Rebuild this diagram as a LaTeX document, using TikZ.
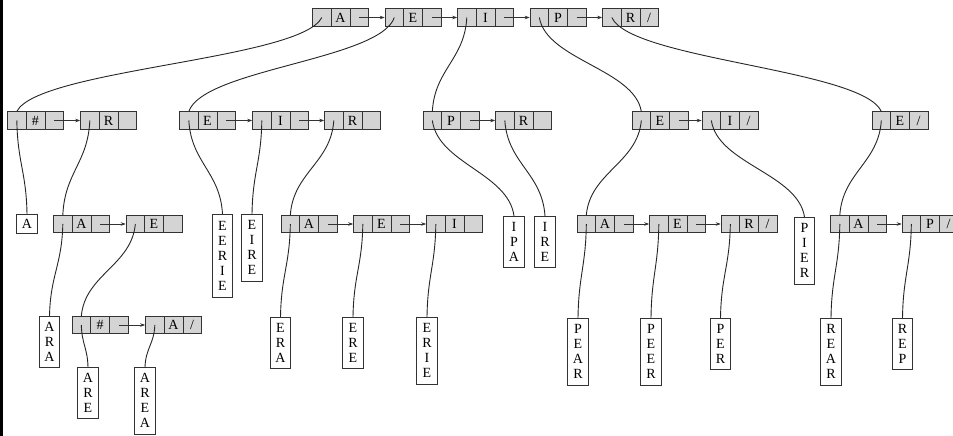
\documentclass[tikz,border=0pt]{standalone}
\usepackage{fontspec}
\setmainfont{Liberation Serif}
\usetikzlibrary{arrows.meta,calc}
\newcommand\reccells[2]{\makebox[18.67pt]{}\makebox[18.67pt]{#1}\makebox[18.67pt]{#2}}
\newcommand\treelink[2]{\draw[conn] let \p1=#1, \p2=#2 in (\p1) .. controls (0.93*\x1+0.07*\x2, 0.55*\y1+0.45*\y2) and (0.07*\x1+0.93*\x2, 0.45*\y1+0.55*\y2) .. (\p2);}
\newcommand\linkrec[2]{\treelink{([xshift=-18.67pt]#1.center)}{([xshift=-18.67pt]#2.north)}}
\newcommand\linkleaf[2]{\treelink{([xshift=-18.67pt]#1.center)}{(#2.north)}}
\newcommand\nextrec[2]{\draw[arr] ([xshift=18.67pt]#1.center) -- (#2.west);}
\begin{document}
\begin{tikzpicture}[x=1pt,y=-1pt,
  rec/.style={draw=black!80, line width=0.6pt, fill=black!17, inner sep=0pt,
    minimum height=17.5pt, text height=9.2pt, text depth=0pt,
    font=\fontsize{14}{15}\selectfont,
    path picture={\draw[black!80, line width=0.6pt]
      ([xshift=-9.33pt]path picture bounding box.north) -- ([xshift=-9.33pt]path picture bounding box.south)
      ([xshift=9.33pt]path picture bounding box.north) -- ([xshift=9.33pt]path picture bounding box.south);}},
  leaf/.style={draw=black!80, line width=0.6pt, fill=white, inner sep=0pt,
    minimum width=20.5pt, minimum height={16*#1+3}, anchor=north, align=center,
    font=\fontsize{14}{15}\selectfont},
  conn/.style={draw=black!85, line width=0.9pt},
  arr/.style={draw=black!80, line width=0.6pt, -{Stealth[length=5pt,width=3.5pt]}}
]
\fill[white] (0,0) rectangle (953,436);
\useasboundingbox (0,0) rectangle (953,436);
\draw[line width=2.5pt] (1.25,0) -- (1.25,436);

% top row
\node[rec] (r1) at (340.5,17.5) {\reccells{A}{}};
\node[rec] (r2) at (413,17.5) {\reccells{E}{}};
\node[rec] (r3) at (485.5,17.5) {\reccells{I}{}};
\node[rec] (r4) at (558,17.5) {\reccells{P}{}};
\node[rec] (r5) at (630.5,17.5) {\reccells{R}{/}};

% level 2
\node[rec] (a1) at (35.5,120.5) {\reccells{\#}{}};
\node[rec] (a2) at (108.5,120.5) {\reccells{R}{}};
\node[rec] (b1) at (207.5,120.5) {\reccells{E}{}};
\node[rec] (b2) at (280.5,120.5) {\reccells{I}{}};
\node[rec] (b3) at (352.5,120.5) {\reccells{R}{}};
\node[rec] (c1) at (451,120.5) {\reccells{P}{}};
\node[rec] (c2) at (523.5,120.5) {\reccells{R}{}};
\node[rec] (d1) at (660,120.5) {\reccells{E}{}};
\node[rec] (d2) at (730,120.5) {\reccells{I}{/}};
\node[rec] (e1) at (900,120.5) {\reccells{E}{/}};

% level 3
\node[rec] (f1) at (81.5,224) {\reccells{A}{}};
\node[rec] (f2) at (154,224) {\reccells{E}{}};
\node[rec] (g1) at (309,224) {\reccells{A}{}};
\node[rec] (g2) at (381.5,224) {\reccells{E}{}};
\node[rec] (g3) at (454.5,224) {\reccells{I}{}};
\node[rec] (h1) at (605,224) {\reccells{A}{}};
\node[rec] (h2) at (677.5,224) {\reccells{E}{}};
\node[rec] (h3) at (749,224) {\reccells{R}{/}};
\node[rec] (i1) at (858.5,224) {\reccells{A}{}};
\node[rec] (i2) at (930,224) {\reccells{P}{/}};

% level 4
\node[rec] (j1) at (100,325) {\reccells{\#}{}};
\node[rec] (j2) at (173.5,325) {\reccells{A}{/}};

% leaves
\node[leaf=1] (wA) at (27,214) {A};
\node[leaf=5] (wEERIE) at (222.5,214) {E\\E\\R\\I\\E};
\node[leaf=4] (wEIRE) at (252,214) {E\\I\\R\\E};
\node[leaf=3] (wIPA) at (514,216) {I\\P\\A};
\node[leaf=3] (wIRE) at (545,216) {I\\R\\E};
\node[leaf=4] (wPIER) at (804.5,217) {P\\I\\E\\R};
\node[leaf=3] (wARA) at (49.5,316) {A\\R\\A};
\node[leaf=3] (wERA) at (280.5,317) {E\\R\\A};
\node[leaf=3] (wERE) at (353,317) {E\\R\\E};
\node[leaf=4] (wERIE) at (427,317) {E\\R\\I\\E};
\node[leaf=4] (wPEAR) at (578,318) {P\\E\\A\\R};
\node[leaf=4] (wPEER) at (651,318) {P\\E\\E\\R};
\node[leaf=3] (wPER) at (720.5,318) {P\\E\\R};
\node[leaf=4] (wREAR) at (831,318) {R\\E\\A\\R};
\node[leaf=3] (wREP) at (902.5,318) {R\\E\\P};
\node[leaf=3] (wARE) at (88,367) {A\\R\\E};
\node[leaf=4] (wAREA) at (145,367) {A\\R\\E\\A};

% next-pointers
\nextrec{r1}{r2}\nextrec{r2}{r3}\nextrec{r3}{r4}\nextrec{r4}{r5}
\nextrec{a1}{a2}
\nextrec{b1}{b2}\nextrec{b2}{b3}
\nextrec{c1}{c2}
\nextrec{d1}{d2}
\nextrec{f1}{f2}
\nextrec{g1}{g2}\nextrec{g2}{g3}
\nextrec{h1}{h2}\nextrec{h2}{h3}
\nextrec{i1}{i2}
\nextrec{j1}{j2}

% child pointers
\linkrec{r1}{a1}
\linkrec{r2}{b1}
\linkrec{r3}{c1}
\linkrec{r4}{d1}
\linkrec{r5}{e1}
\linkleaf{a1}{wA}
\linkrec{a2}{f1}
\linkleaf{b1}{wEERIE}
\linkleaf{b2}{wEIRE}
\linkrec{b3}{g1}
\linkleaf{c1}{wIPA}
\linkleaf{c2}{wIRE}
\linkrec{d1}{h1}
\linkleaf{d2}{wPIER}
\linkrec{e1}{i1}
\linkleaf{f1}{wARA}
\linkrec{f2}{j1}
\linkleaf{g1}{wERA}
\linkleaf{g2}{wERE}
\linkleaf{g3}{wERIE}
\linkleaf{h1}{wPEAR}
\linkleaf{h2}{wPEER}
\linkleaf{h3}{wPER}
\linkleaf{i1}{wREAR}
\linkleaf{i2}{wREP}
\linkleaf{j1}{wARE}
\linkleaf{j2}{wAREA}
\end{tikzpicture}
\end{document}
